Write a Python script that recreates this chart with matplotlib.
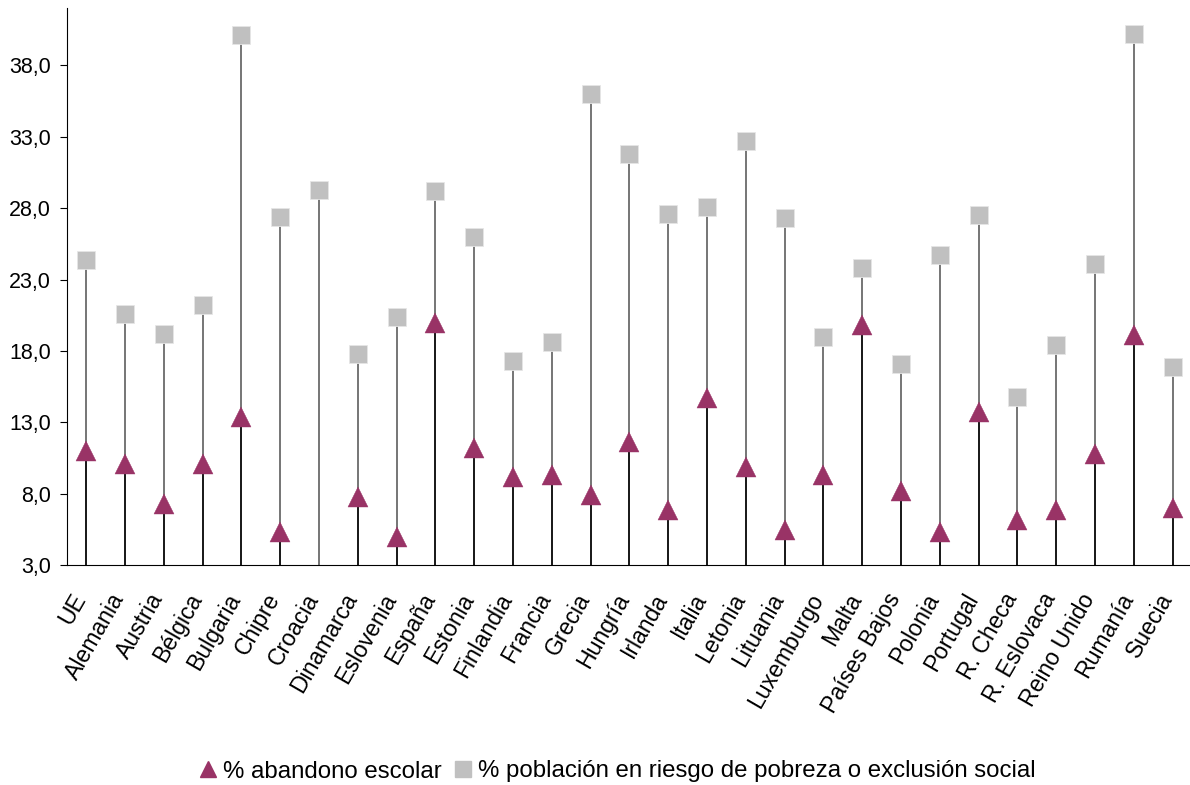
import numpy as np
import matplotlib
matplotlib.use('Agg')
import matplotlib.pyplot as plt
from matplotlib.lines import Line2D

plt.rcParams['font.family'] = ['Liberation Sans', 'DejaVu Sans']

paises = ['UE', 'Alemania', 'Austria', 'Bélgica', 'Bulgaria', 'Chipre', 'Croacia',
          'Dinamarca', 'Eslovenia', 'España', 'Estonia', 'Finlandia', 'Francia',
          'Grecia', 'Hungría', 'Irlanda', 'Italia', 'Letonia', 'Lituania',
          'Luxemburgo', 'Malta', 'Países Bajos', 'Polonia', 'Portugal', 'R. Checa',
          'R. Eslovaca', 'Reino Unido', 'Rumanía', 'Suecia']

# % abandono escolar (Croacia sin dato)
abandono = [11.0, 10.1, 7.3, 10.1, 13.4, 5.3, np.nan,
            7.8, 5.0, 20.0, 11.2, 9.2, 9.3,
            7.9, 11.6, 6.9, 14.7, 9.9, 5.5,
            9.3, 19.8, 8.2, 5.3, 13.7, 6.2,
            6.9, 10.8, 19.1, 7.0]

# % poblacion en riesgo de pobreza o exclusion social
pobreza = [24.4, 20.6, 19.2, 21.2, 40.1, 27.4, 29.3,
           17.8, 20.4, 29.2, 26.0, 17.3, 18.6,
           36.0, 31.8, 27.6, 28.1, 32.7, 27.3,
           19.0, 23.8, 17.1, 24.7, 27.5, 14.8,
           18.4, 24.1, 40.2, 16.9]

yticks = [3, 8, 13, 18, 23, 28, 33, 38]

color_tri = '#993366'
color_sq = '#C0C0C0'
base = 3.0

x = np.arange(len(paises))
abandono = np.array(abandono, dtype=float)
pobreza = np.array(pobreza, dtype=float)

fig = plt.figure(figsize=(11.9, 7.85), dpi=100)
ax = fig.add_axes([66.7 / 1190, 1 - 565.3 / 785, 1125.4 / 1190, (565.3 - 8.3) / 785])

# lineas de caida desde el eje hasta cada punto
ax.vlines(x, base, pobreza, colors='#505050', linewidth=1.1, zorder=1)
ok = ~np.isnan(abandono)
ax.vlines(x[ok], base, abandono[ok], colors='black', linewidth=1.1, zorder=2)

ax.plot(x, pobreza, linestyle='none', marker='s', markersize=13, color=color_sq,
        markeredgecolor='#e6e6e6', markeredgewidth=0.6, zorder=3)
ax.plot(x, abandono, linestyle='none', marker='^', markersize=14.9, color=color_tri,
        markeredgecolor=color_tri, markeredgewidth=0.3, zorder=4)

ax.set_xlim(-0.5, len(paises) - 0.5)
ax.set_ylim(3, 42)
ax.set_yticks(yticks)
ax.set_yticklabels([('%.1f' % v).replace('.', ',') for v in yticks], fontsize=15.5)
ax.tick_params(axis='y', length=5, width=0.8, pad=6.5, direction='out')

ax.set_xticks(x)
ax.set_xticklabels(paises, fontsize=16.6)
ax.tick_params(axis='x', length=0, pad=23.8)
plt.setp(ax.get_xticklabels(), rotation=60, ha='right', va='baseline', rotation_mode='anchor')

for s in ['top', 'right']:
    ax.spines[s].set_visible(False)
for s in ['left', 'bottom']:
    ax.spines[s].set_linewidth(0.8)
    ax.spines[s].set_zorder(5)

handles = [Line2D([], [], linestyle='none', marker='^', markersize=12.2, color=color_tri),
           Line2D([], [], linestyle='none', marker='s', markersize=12, color=color_sq)]
fig.legend(handles, ['% abandono escolar',
                     '% población en riesgo de pobreza o exclusión social'],
           loc='center', bbox_to_anchor=(617 / 1190, 1 - 771.5 / 785), ncol=2,
           frameon=False, fontsize=17.3, handlelength=0.75, handletextpad=0.25,
           columnspacing=0.5, borderpad=0, borderaxespad=0)

fig.savefig('out.png', dpi=100)
